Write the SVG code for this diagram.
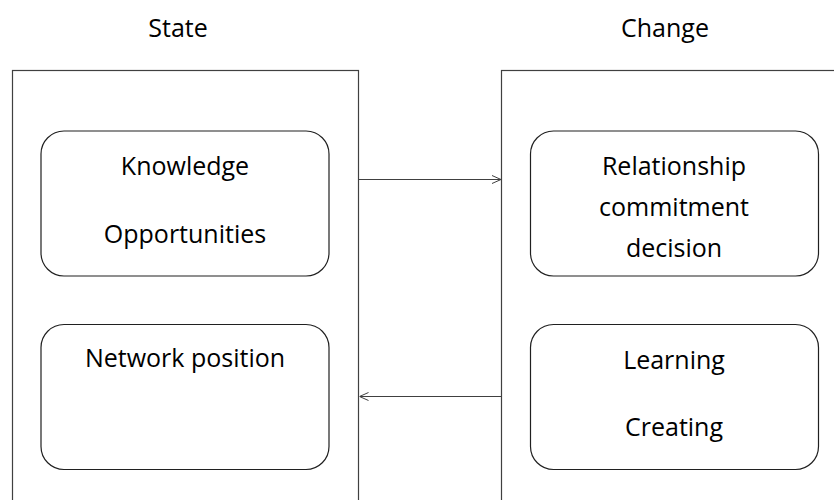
<svg xmlns="http://www.w3.org/2000/svg" width="834" height="500" viewBox="0 0 834 500">
<style>
.frame{fill:#fff;stroke:#404040;stroke-width:1.2}
.box{fill:#fff;stroke:#202020;stroke-width:1.2}
.lbl{font-family:"Open Sans","Liberation Sans",sans-serif;font-size:25px;fill:#000;text-anchor:middle}
.conn{stroke:#404040;stroke-width:1;fill:none}
</style>
<defs>
<marker id="open" viewBox="0 0 10 10" refX="10" refY="5" markerWidth="10" markerHeight="10" markerUnits="userSpaceOnUse" orient="auto">
<path d="M1,1 L10,5 L1,9" fill="none" stroke="#404040" stroke-width="1"/>
</marker>
</defs>
<rect width="834" height="500" fill="#fff"/>
<g id="state">
<rect class="frame" x="12.5" y="70.5" width="346" height="440"/>
<text class="lbl" x="178" y="37">State</text>
</g>
<g id="change">
<rect class="frame" x="501.5" y="70.5" width="350" height="440"/>
<text class="lbl" x="665" y="37">Change</text>
</g>
<g id="knowledge">
<rect class="box" x="41" y="131" width="288" height="145" rx="23"/>
<text class="lbl" x="185" y="175">Knowledge</text>
<text class="lbl" x="185" y="243">Opportunities</text>
</g>
<g id="network">
<rect class="box" x="41" y="324.5" width="288" height="145" rx="23"/>
<text class="lbl" x="185" y="367">Network position</text>
</g>
<g id="relationship">
<rect class="box" x="530.5" y="131" width="288" height="145" rx="23"/>
<text class="lbl" x="674" y="175">Relationship</text>
<text class="lbl" x="674" y="216">commitment</text>
<text class="lbl" x="674" y="257">decision</text>
</g>
<g id="learning">
<rect class="box" x="530.5" y="324.5" width="288" height="145" rx="23"/>
<text class="lbl" x="674" y="369">Learning</text>
<text class="lbl" x="674" y="436">Creating</text>
</g>
<g id="connectors">
<line class="conn" x1="359" y1="179.5" x2="501" y2="179.5" marker-end="url(#open)"/>
<line class="conn" x1="501" y1="396.5" x2="359.5" y2="396.5" marker-end="url(#open)"/>
</g>
</svg>
